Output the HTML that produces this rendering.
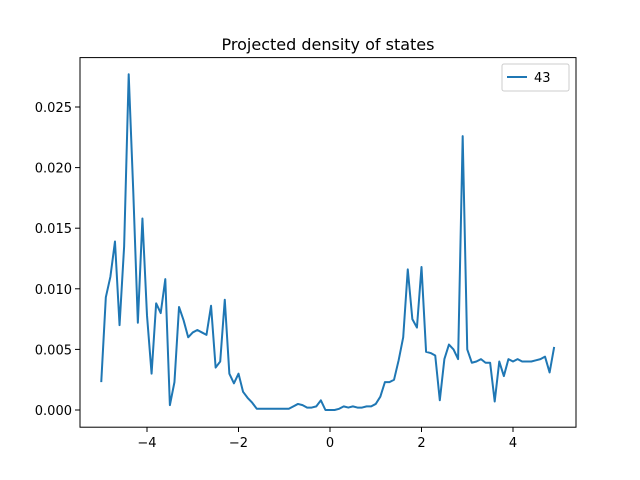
<!DOCTYPE html>
<html><head><meta charset="utf-8"><style>
body{margin:0;background:#fff}
svg{display:block;font-family:"DejaVu Sans","Liberation Sans",sans-serif}
</style></head><body>
<svg id="chart" width="640" height="480" viewBox="0 0 640 480">
<rect width="640" height="480" fill="#fff"/>
<text x="328" y="50" text-anchor="middle" font-size="16" fill="#000">Projected density of states</text>
<g id="grid"></g>
<path id="series" fill="none" stroke="#1f77b4" stroke-width="2" stroke-linejoin="round"/>
<rect x="80" y="57.6" width="496" height="369.6" fill="none" stroke="#000" stroke-width="1"/>
<g id="ticks"></g>
<g>
<rect x="502" y="64" width="67" height="27" rx="2" fill="#fff" stroke="#ccc"/>
<line x1="507" y1="77" x2="527" y2="77" stroke="#1f77b4" stroke-width="2"/>
<text x="534" y="82" font-size="13">43</text>
</g>
</svg>
<script>
const xStart = -5, xStep = 0.1;
const values = [0.0023,0.0093,0.0110,0.0139,0.0070,0.0135,0.0277,0.0180,0.0072,0.0158,
0.0078,0.0030,0.0088,0.0080,0.0108,0.0004,0.0023,0.0085,0.0074,0.0060,
0.0064,0.0066,0.0064,0.0062,0.0086,0.0035,0.0040,0.0091,0.0030,0.0022,
0.0030,0.0015,0.0010,0.0006,0.0001,0.0001,0.0001,0.0001,0.0001,0.0001,
0.0001,0.0001,0.0003,0.0005,0.0004,0.0002,0.0002,0.0003,0.0008,0.0000,
0.0000,0.0000,0.0001,0.0003,0.0002,0.0003,0.0002,0.0002,0.0003,0.0003,
0.0005,0.0011,0.0023,0.0023,0.0025,0.0041,0.0060,0.0116,0.0075,0.0068,
0.0118,0.0048,0.0047,0.0045,0.0008,0.0042,0.0054,0.0050,0.0042,0.0226,
0.0050,0.0039,0.0040,0.0042,0.0039,0.0039,0.0007,0.0040,0.0028,0.0042,
0.0040,0.0042,0.0040,0.0040,0.0040,0.0041,0.0042,0.0044,0.0031,0.0052];
const xTicks = [-4,-2,0,2,4];
const yTicks = [0,0.005,0.010,0.015,0.020,0.025];
const yLabels = ["0.000","0.005","0.010","0.015","0.020","0.025"];

const NS="http://www.w3.org/2000/svg";
function X(v){return 330+v*45.75;}
function Y(v){return 410-v*12120;}
let d="";
values.forEach((v,i)=>{const x=xStart+i*xStep;d+=(i?"L":"M")+X(x).toFixed(2)+","+Y(v).toFixed(2);});
document.getElementById("series").setAttribute("d",d);
const tg=document.getElementById("ticks");
xTicks.forEach(t=>{
  const l=document.createElementNS(NS,"line");
  l.setAttribute("x1",X(t));l.setAttribute("x2",X(t));l.setAttribute("y1",427.2);l.setAttribute("y2",432);l.setAttribute("stroke","#000");
  
  
  tg.appendChild(l);
  const tx=document.createElementNS(NS,"text");
  tx.setAttribute("x",X(t));tx.setAttribute("y",447);tx.setAttribute("text-anchor","middle");tx.setAttribute("font-size","13");
  tx.textContent=t<0?"\u2212"+Math.abs(t):String(t);
  
  
  tg.appendChild(tx);
});
yTicks.forEach((t,i)=>{
  const l=document.createElementNS(NS,"line");
  l.setAttribute("x1",75);l.setAttribute("x2",80);l.setAttribute("y1",Y(t));l.setAttribute("y2",Y(t));l.setAttribute("stroke","#000");
  
  
  tg.appendChild(l);
  const tx=document.createElementNS(NS,"text");
  tx.setAttribute("x",72);tx.setAttribute("y",Y(t)+5);tx.setAttribute("text-anchor","end");tx.setAttribute("font-size","13");
  tx.textContent=yLabels[i];
  
  
  tg.appendChild(tx);
});
</script>
</body></html>
